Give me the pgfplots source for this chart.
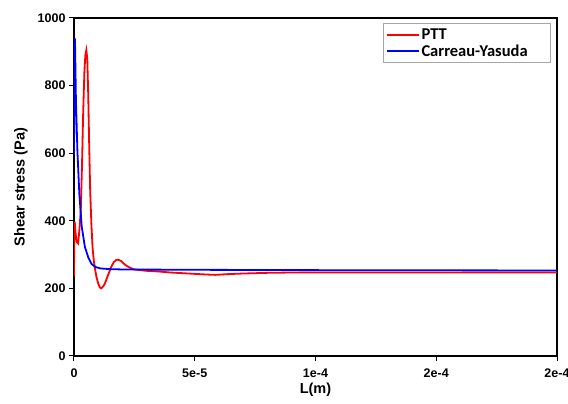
\documentclass[border=0pt]{standalone}
\usepackage{fontspec}
\setmainfont{Liberation Sans}
\newfontfamily\legfont{Carlito}
\usepackage{pgfplots}
\pgfplotsset{compat=1.18}

\pgfplotstableread{
x        y
0        235
0.01e-5  330
0.03e-5  397
0.07e-5  360
0.11e-5  338
0.17e-5  333
0.22e-5  370
0.28e-5  430
0.33e-5  560
0.38e-5  720
0.43e-5  840
0.47e-5  890
0.51e-5  905
0.55e-5  880
0.59e-5  770
0.63e-5  620
0.67e-5  490
0.72e-5  390
0.77e-5  320
0.82e-5  282
0.87e-5  258
0.93e-5  234
1.00e-5  215
1.07e-5  203
1.13e-5  200
1.20e-5  205
1.27e-5  213
1.34e-5  226
1.45e-5  247
1.55e-5  265
1.65e-5  278
1.75e-5  284
1.82e-5  285
1.95e-5  281
2.05e-5  274
2.17e-5  267
2.35e-5  260
2.50e-5  256
2.75e-5  254
3.00e-5  252
3.50e-5  250
4.00e-5  247
4.50e-5  245
5.00e-5  243
5.50e-5  241
5.85e-5  240
6.30e-5  242
7.00e-5  244
8.00e-5  246
9.00e-5  247
10.0e-5  247
20.0e-5  247
}\ptt

\pgfplotstableread{
x        y
0        595
0.02e-5  850
0.04e-5  940
0.08e-5  757
0.14e-5  609
0.22e-5  481
0.32e-5  383
0.45e-5  323
0.60e-5  290
0.73e-5  272
0.90e-5  263
1.10e-5  259
1.50e-5  257
2.00e-5  256
5.00e-5  255
10.0e-5  254
20.0e-5  253
}\cy

\begin{document}
\begin{tikzpicture}
\begin{axis}[
  scale only axis,
  width=483pt, height=338pt,
  xmin=0, xmax=2e-4, ymin=0, ymax=1000,
  scaled x ticks=false, scaled y ticks=false,
  xtick={0,5e-5,1e-4,1.5e-4,2e-4},
  xticklabels={0,5e-5,1e-4,2e-4,2e-4},
  ytick={0,200,400,600,800,1000},
  yticklabels={0,200,400,600,800,1000},
  xtick pos=bottom, ytick pos=left,
  tick align=outside,
  major tick length=5pt,
  major tick style={black, line width=1pt},
  axis line style={black, line width=1.8pt},
  tick label style={font=\fontsize{12.5}{14}\selectfont\bfseries},
  xticklabel style={yshift=-4pt},
  label style={font=\fontsize{14.5}{17}\selectfont\bfseries},
  xlabel={L(m)},
  ylabel={Shear stress (Pa)},
  xlabel style={at={(axis description cs:0.5,-0.10)}, anchor=center},
  ylabel style={at={(axis description cs:-0.11,0.5)}, anchor=center},
  legend style={
    at={(rel axis cs:0.64,0.985)}, anchor=north west,
    draw=gray!70, line width=0.8pt,
    font=\legfont\fontsize{16.5}{17}\selectfont\bfseries,
    inner xsep=2pt, inner ysep=3pt,
    row sep=0pt,
    cells={anchor=west},
  },
  legend image code/.code={\draw[#1, line width=2pt] (0pt,0pt) -- (32pt,0pt);},
]
\addplot[red, line width=1.8pt] table[x=x, y=y] {\ptt};
\addlegendentry{PTT}
\addplot[blue, line width=1.8pt] table[x=x, y=y] {\cy};
\addlegendentry{\makebox[125pt][l]{Carreau-Yasuda}}
\coordinate (ll) at (rel axis cs:0,0);
\coordinate (ur) at (rel axis cs:1,1);
\end{axis}
\pgfresetboundingbox
\path ([xshift=-74pt,yshift=-48pt]ll) rectangle ([xshift=11pt,yshift=18pt]ur);
\end{tikzpicture}
\end{document}
